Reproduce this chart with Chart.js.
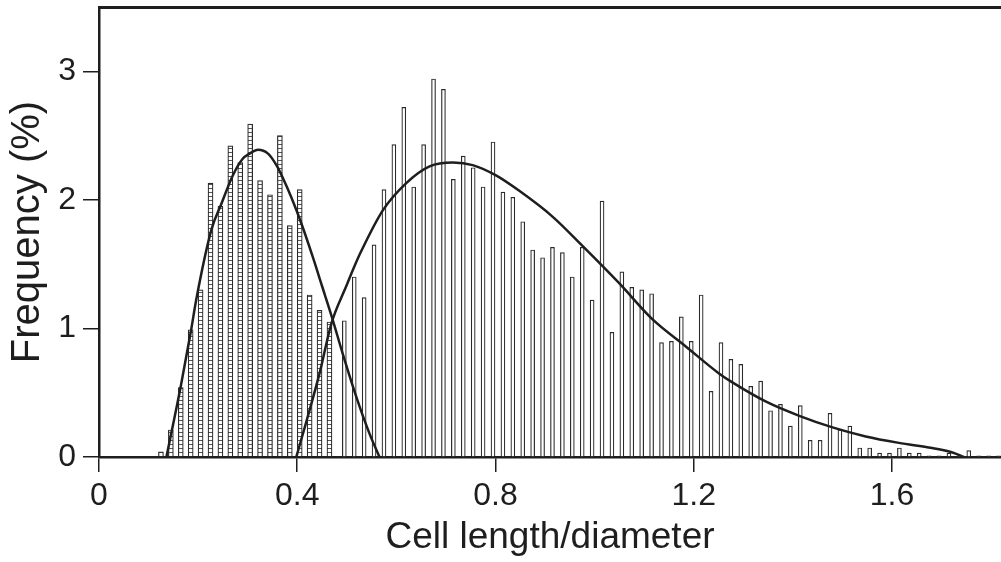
<!DOCTYPE html>
<html>
<head>
<meta charset="utf-8">
<script src="https://cdn.jsdelivr.net/npm/chart.js@4.4.1/dist/chart.umd.min.js"></script>
<style>
  body { margin: 0; background: #fff; }
  #wrap { width: 1001px; height: 562px; position: relative; }
</style>
</head>
<body>
<div id="wrap"><canvas id="c"></canvas></div>
<script>
// short cells (hatched bars)
const shortX = [0.125, 0.145, 0.165, 0.185, 0.205, 0.225, 0.245, 0.265, 0.285,
                0.305, 0.325, 0.345, 0.365, 0.385, 0.405, 0.425, 0.445, 0.465];
const shortFreq = [0.04, 0.21, 0.54, 0.99, 1.30, 2.13, 1.95, 2.42, 2.29,
                   2.59, 2.15, 2.04, 2.50, 1.80, 2.08, 1.26, 1.14, 1.05];

// long cells (open bars)
const longX = [0.495, 0.515, 0.535, 0.555, 0.575, 0.595, 0.615, 0.635, 0.655, 0.675,
               0.695, 0.715, 0.735, 0.755, 0.775, 0.795, 0.815, 0.835, 0.855, 0.875,
               0.895, 0.915, 0.935, 0.955, 0.975, 0.995, 1.015, 1.035, 1.055, 1.075,
               1.095, 1.115, 1.135, 1.155, 1.175, 1.195, 1.215, 1.235, 1.255, 1.275,
               1.295, 1.315, 1.335, 1.355, 1.375, 1.395, 1.415, 1.435, 1.455, 1.475,
               1.495, 1.515, 1.535, 1.555, 1.575, 1.595, 1.615, 1.635, 1.655, 1.675,
               1.695, 1.715, 1.735, 1.755, 1.775, 1.795, 1.815];
const longFreq = [1.06, 1.40, 1.24, 1.65, 2.08, 2.43, 2.72, 2.10, 2.43, 2.94,
                  2.86, 2.16, 2.34, 2.25, 2.10, 2.45, 2.06, 2.02, 1.83, 1.61,
                  1.55, 1.63, 1.59, 1.40, 1.63, 1.22, 1.99, 0.97, 1.44, 1.32,
                  1.30, 1.27, 0.89, 0.90, 1.09, 0.90, 1.26, 0.51, 0.89, 0.76,
                  0.72, 0.55, 0.59, 0.36, 0.41, 0.24, 0.40, 0.13, 0.13, 0.34,
                  0.21, 0.24, 0.07, 0.07, 0.03, 0.03, 0.07, 0.03, 0.03, 0.01,
                  0.01, 0.03, 0.01, 0.05, 0.01, 0.01, 0.01];

// fitted curves
const fitShortX = [0.136, 0.165, 0.186, 0.196, 0.227, 0.247, 0.270, 0.290, 0.304, 0.321,
                   0.341, 0.358, 0.371, 0.388, 0.408, 0.431, 0.450, 0.469, 0.492, 0.519,
                   0.546, 0.566];
const fitShortY = [0.0, 0.55, 0.99, 1.22, 1.77, 1.97, 2.19, 2.32, 2.36, 2.39,
                   2.36, 2.27, 2.17, 2.02, 1.82, 1.56, 1.33, 1.10, 0.80, 0.47,
                   0.18, 0.0];
const fitLongX = [0.398, 0.418, 0.445, 0.469, 0.499, 0.515, 0.529, 0.573, 0.620, 0.667,
                  0.714, 0.754, 0.801, 0.848, 0.915, 0.976, 1.050, 1.117, 1.184, 1.251,
                  1.278, 1.346, 1.413, 1.480, 1.547, 1.614, 1.681, 1.722, 1.745];
const fitLongY = [0.0, 0.27, 0.65, 1.04, 1.33, 1.48, 1.60, 1.92, 2.13, 2.26,
                  2.29, 2.27, 2.19, 2.07, 1.87, 1.64, 1.35, 1.07, 0.86, 0.65,
                  0.58, 0.43, 0.32, 0.23, 0.16, 0.11, 0.07, 0.035, 0.0];

const xTicks = [0, 0.4, 0.8, 1.2, 1.6];
const yTicks = [0, 1, 2, 3];

const ink = '#1e1e1e';
const font = '"Liberation Sans", Arial, Helvetica, sans-serif';

function ladder() {
    let c = document.createElement('canvas');
    c.width = 6; c.height = 4;
    let g = c.getContext('2d');
    g.fillStyle = '#fff';
    g.fillRect(0, 0, 6, 4);
    g.fillStyle = '#555';
    g.fillRect(0, 0, 6, 1);
    return g.createPattern(c, 'repeat');
}

function pts(xs, ys) {
    return xs.map((x, i) => ({x: x, y: ys[i]}));
}

// no label padding at the ends of the axes, so the plot area fills the frame
function noPad(s) {
    s.paddingTop = 0;
    s.paddingBottom = 0;
    s.paddingLeft = 0;
    s.paddingRight = 0;
}

new Chart(document.getElementById('c'), {
    type: 'bar',
    data: {
        datasets: [
            {
                type: 'line', data: pts(fitShortX, fitShortY), order: 0,
                borderColor: ink, borderWidth: 2.5, pointRadius: 0,
                cubicInterpolationMode: 'monotone', fill: false,
            },
            {
                type: 'line', data: pts(fitLongX, fitLongY), order: 0,
                borderColor: ink, borderWidth: 2.5, pointRadius: 0,
                cubicInterpolationMode: 'monotone', fill: false,
            },
            {
                data: pts(shortX, shortFreq), order: 1, grouped: false,
                backgroundColor: ladder(), borderColor: '#2a2a2a',
                borderWidth: 1.2, barThickness: 5,
            },
            {
                data: pts(longX, longFreq), order: 1, grouped: false,
                backgroundColor: '#fff', borderColor: '#2a2a2a',
                borderWidth: 1.2, barThickness: 4,
            },
        ]
    },
    options: {
        animation: false,
        responsive: true,
        maintainAspectRatio: false,
        layout: {padding: {top: 7, right: 0, left: 0, bottom: 0}},
        plugins: {legend: {display: false}, tooltip: {enabled: false}},
        scales: {
            x: {
                type: 'linear', min: 0, max: 1.82, offset: false,
                afterBuildTicks: s => { s.ticks = xTicks.map(v => ({value: v})); },
                afterFit: s => { s.height = 105; noPad(s); },
                ticks: {
                    color: ink, padding: 5, maxRotation: 0,
                    font: {family: font, size: 32},
                    callback: v => String(v),
                },
                grid: {offset: false, drawOnChartArea: false, drawTicks: true, tickLength: 15, color: ink, lineWidth: 1.5},
                border: {color: ink, width: 2.5},
                title: {
                    display: true, text: 'Cell length/diameter', color: ink,
                    font: {family: font, size: 37}, padding: {top: 0, bottom: 2},
                },
            },
            x2: {
                type: 'linear', position: 'top', min: 0, max: 1.82,
                afterFit: s => { s.height = 0; noPad(s); },
                ticks: {display: false},
                grid: {display: false},
                border: {color: ink, width: 3},
            },
            y: {
                min: 0, max: 3.5,
                afterBuildTicks: s => { s.ticks = yTicks.map(v => ({value: v})); },
                afterFit: s => { s.width = 99; noPad(s); },
                ticks: {
                    color: ink, padding: 7,
                    font: {family: font, size: 32},
                    callback: v => String(v),
                },
                grid: {offset: false, drawOnChartArea: false, drawTicks: true, tickLength: 16, color: ink, lineWidth: 1.5},
                border: {color: ink, width: 2.5},
                title: {
                    display: true, text: 'Frequency (%)', color: ink,
                    font: {family: font, size: 40}, padding: {top: 4, bottom: 0},
                },
            },
        },
    }
});
</script>
</body>
</html>
